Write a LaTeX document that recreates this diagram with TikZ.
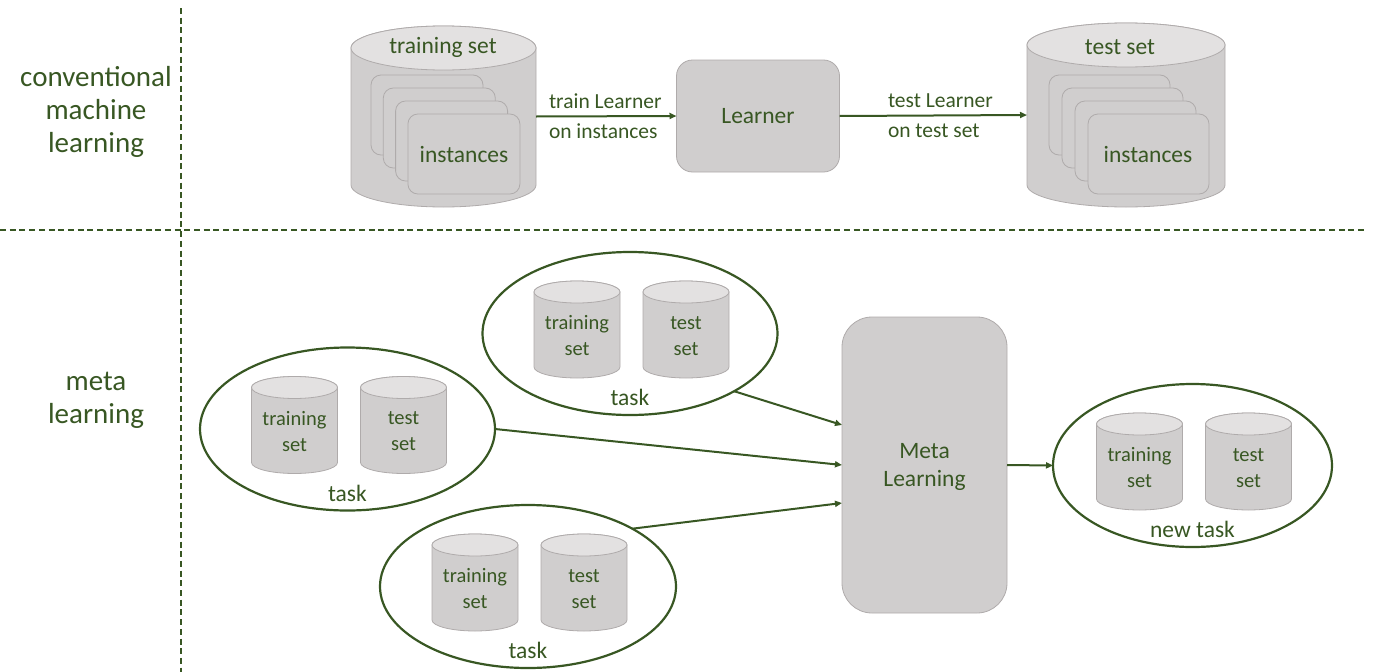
\documentclass[tikz,border=0pt]{standalone}
\usepackage{fontspec}
\setmainfont{Carlito}
\usepackage{xcolor}
\usepackage{tikz}
\usetikzlibrary{shapes.geometric,arrows.meta}
\definecolor{mlgreen}{HTML}{385723}
\definecolor{boxgray}{HTML}{D0CECE}
\definecolor{topgray}{HTML}{E3E1E1}
\definecolor{edgegray}{HTML}{AFABAB}
\newcommand{\drawtank}[6]{%
	\node [minimum width=#4,minimum height=#5] (#1) at (#2,#3) {};
	\draw [tankline,fill=boxgray] ([yshift=-#6pt]#1.north west) -- ([yshift=#6pt]#1.south west)
		arc [start angle=180,end angle=360,x radius=#4pt/2,y radius=#6pt]
		-- ([yshift=-#6pt]#1.north east)
		arc [start angle=0,end angle=180,x radius=#4pt/2,y radius=#6pt] -- cycle;
	\draw [tankline,fill=topgray] ([yshift=-#6pt]#1.north) ellipse [x radius=#4pt/2,y radius=#6pt];
}

\begin{document}
\begin{tikzpicture}[x=1pt,y=-1pt,
		every node/.style={text=mlgreen,inner sep=0pt,outer sep=0pt},
		tankline/.style={draw=edgegray,line width=0.8pt},
		inst/.style={draw=edgegray,line width=0.8pt,fill=boxgray,rounded corners=10pt},
		box/.style={draw=edgegray,line width=0.8pt,fill=boxgray,rounded corners=16pt},
		task/.style={ellipse,draw=mlgreen,line width=2.2pt},
		flow/.style={draw=mlgreen,line width=2pt,-{Triangle[length=7pt,width=6pt]}},
		sep/.style={draw=mlgreen,line width=2pt,dash pattern=on 6pt off 3.7pt},
		side/.style={font=\fontsize{29}{33}\selectfont,align=center},
		big/.style={font=\fontsize{23.5}{28}\selectfont,align=center},
		flowlbl/.style={font=\fontsize{21.5}{30}\selectfont,align=left,anchor=west},
		small/.style={font=\fontsize{20.5}{26}\selectfont,align=center}]
		\useasboundingbox (0,0) rectangle (1374,672);
		\draw [sep] (181,8) -- (181,672);
		\draw [sep] (0,230) -- (1366,230);
		\node [side] (cml) at (96,112) {conventional\\machine\\learning};
		\node [side] (ml) at (96,400) {meta\\learning};

		\drawtank{trainset}{443.5}{116.5}{185}{181}{22}
		\node [big] (trainname) at (443,47) {training set};
		\foreach \i in {0,...,3}
			\draw [inst] (371+12.3*\i,75+13*\i) rectangle ++(112,80);
		\node [big] (traininst) at (464,154) {instances};

		\node [box,minimum width=163,minimum height=112] (learner) at (758,116) {};
		\node [big] (learnername) at (758,116) {Learner};

		\drawtank{testset}{1126}{115}{198}{184}{22}
		\node [big] (testname) at (1120,47) {test set};
		\foreach \i in {0,...,3}
			\draw [inst] (1049+13*\i,75+13*\i) rectangle ++(121,80);
		\node [big] (testinst) at (1148,154) {instances};

		\draw [flow] (trainset.east) -- (learner.west);
		\node [flowlbl] (trainlbl) at (549,116) {train Learner\\on instances};
		\draw [flow] (learner.east) -- (testset.west);
		\node [flowlbl] (testlbl) at (888,116) {test Learner\\on test set};

		\foreach \n/\x/\y/\w/\t in {taskA/630/333.5/295/task,taskB/347.5/429/295/task,taskC/528/586.5/296/task,newtask/1192.5/465.5/279/new task} {
			\node [task,minimum width=\w,minimum height=163] (\n) at (\x,\y) {};
			\drawtank{\n-train}{\x-53}{\y-4}{86}{97}{11}
			\node [small] at (\x-53,\y+2.5) {training\\set};
			\drawtank{\n-test}{\x+56}{\y-4}{86}{97}{11}
			\node [small] at (\x+56,\y+2.5) {test\\set};
			\node [big] at (\x,\y+64) {\t};
		}

		\node [box,rounded corners=30pt,minimum width=165,minimum height=296] (meta) at (924.5,465) {};
		\node [big] (metaname) at (924.5,467) {Meta\\Learning};

		\draw [flow] (taskA.-29) -- ([yshift=40pt]meta.west);
		\draw [flow] (taskB.east) -- (meta.west);
		\draw [flow] (taskC.29) -- ([yshift=-38pt]meta.west);
		\draw [flow] (meta.east) -- (newtask.west);
		\end{tikzpicture}
\end{document}
